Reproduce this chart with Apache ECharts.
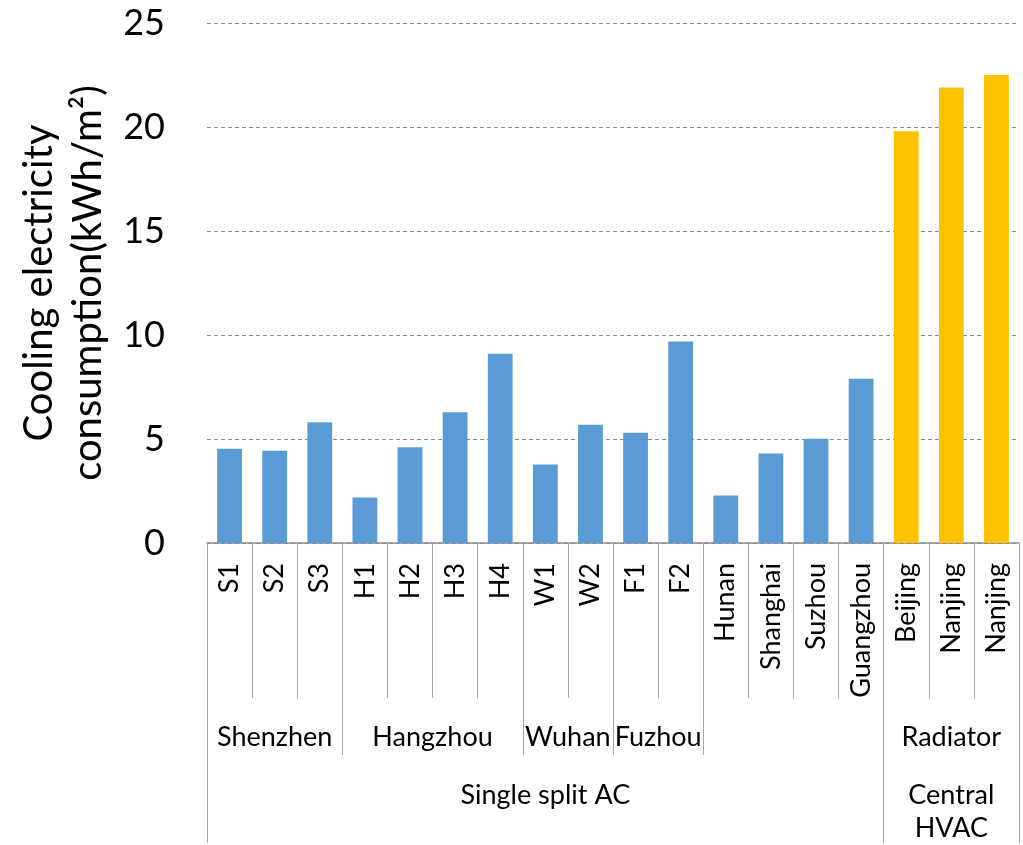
<!DOCTYPE html>
<html>
<head>
<meta charset="utf-8">
<script src="https://cdn.jsdelivr.net/npm/echarts@6/dist/echarts.min.js"></script>
<style>
html,body{margin:0;padding:0;background:#fff;}
#chart{width:1023px;height:845px;}
</style>
</head>
<body>
<div id="chart"></div>
<script>
// ---- data ----
const categories = ['S1','S2','S3','H1','H2','H3','H4','W1','W2','F1','F2','Hunan','Shanghai','Suzhou','Guangzhou','Beijing','Nanjing','Nanjing'];
const values = [4.53,4.44,5.81,2.19,4.60,6.29,9.10,3.78,5.68,5.30,9.69,2.28,4.30,5.01,7.90,19.8,21.9,22.5];
const systemOfBar = ['split','split','split','split','split','split','split','split','split','split','split','split','split','split','split','central','central','central'];
const cityGroups = [
  {name:'Shenzhen', start:0, end:2},
  {name:'Hangzhou', start:3, end:6},
  {name:'Wuhan', start:7, end:8},
  {name:'Fuzhou', start:9, end:10},
  {name:'', start:11, end:14},
  {name:'Radiator', start:15, end:17}
];
const systemGroups = [
  {name:'Single split AC', start:0, end:14},
  {name:'Central\nHVAC', start:15, end:17}
];
const yMin = 0, yMax = 25, yStep = 5;
const yTitle = 'Cooling electricity\nconsumption(kWh/m²)';

// ---- styling ----
const colors = {split:'#5B9BD5', central:'#FFC000'};
const FONT = 'Lato';
const tickColor = '#a6a6a6';

// half-slot helper axis: 2*N+1 points so group centres and boundaries fall on points
const nSlots = categories.length * 2 + 1;
const slots = Array.from({length:nSlots}, (_, i) => String(i));
function groupLabelMap(groups){
  const m = {};
  groups.forEach(g => { m[g.start + g.end + 1] = g.name; });
  return m;
}
function groupBoundarySet(groups){
  const s = new Set();
  groups.forEach(g => { s.add(2*g.start); s.add(2*(g.end+1)); });
  return s;
}
const cityLabels = groupLabelMap(cityGroups.filter(g => g.name));
const cityBounds = groupBoundarySet(cityGroups);
const sysLabels = groupLabelMap(systemGroups);
const sysBounds = groupBoundarySet(systemGroups);

const chart = echarts.init(document.getElementById('chart'), null, {renderer:'canvas'});
chart.setOption({
  animation:false,
  backgroundColor:'#ffffff',
  grid:{left:207, right:4, top:23, bottom:300, containLabel:false},
  xAxis:[
    {
      type:'category', data:categories, position:'bottom',
      axisLine:{show:true, lineStyle:{color:'#8c8c8c', width:1.5}},
      axisTick:{show:true, length:155, interval:0, lineStyle:{color:tickColor, width:1}},
      axisLabel:{interval:0, rotate:90, margin:20, fontFamily:FONT, fontSize:27, color:'#000'},
      splitLine:{show:false}
    },
    {
      type:'category', data:slots, boundaryGap:false, position:'bottom',
      axisLine:{show:false},
      axisTick:{show:true, length:212, interval:(i)=>cityBounds.has(i), lineStyle:{color:tickColor, width:1}},
      axisLabel:{interval:(i)=>cityLabels[i]!==undefined, margin:181, fontFamily:FONT, fontSize:27, color:'#000',
        formatter:(v)=>cityLabels[+v] || ''},
      splitLine:{show:false}
    },
    {
      type:'category', data:slots, boundaryGap:false, position:'bottom',
      axisLine:{show:false},
      axisTick:{show:true, length:300, interval:(i)=>sysBounds.has(i), lineStyle:{color:tickColor, width:1}},
      axisLabel:{interval:(i)=>sysLabels[i]!==undefined, margin:236, fontFamily:FONT, fontSize:27, lineHeight:33, color:'#000',
        formatter:(v)=>sysLabels[+v] || ''},
      splitLine:{show:false}
    }
  ],
  yAxis:{
    type:'value', min:yMin, max:yMax, interval:yStep,
    name:yTitle, nameLocation:'middle', nameRotate:90, nameGap:88,
    nameTextStyle:{fontFamily:FONT, fontSize:40, lineHeight:49, color:'#000'},
    axisLine:{show:false}, axisTick:{show:false},
    axisLabel:{fontFamily:FONT, fontSize:36, color:'#000', margin:42},
    splitLine:{show:true, lineStyle:{color:'#8a8a8a', type:[4,3], width:1}}
  },
  series:[{
    type:'bar', xAxisIndex:0, barWidth:'55%',
    data: values.map((v,i)=>({value:v, itemStyle:{color:colors[systemOfBar[i]]}})),
    itemStyle:{borderWidth:0}
  }]
});
</script>
</body>
</html>
